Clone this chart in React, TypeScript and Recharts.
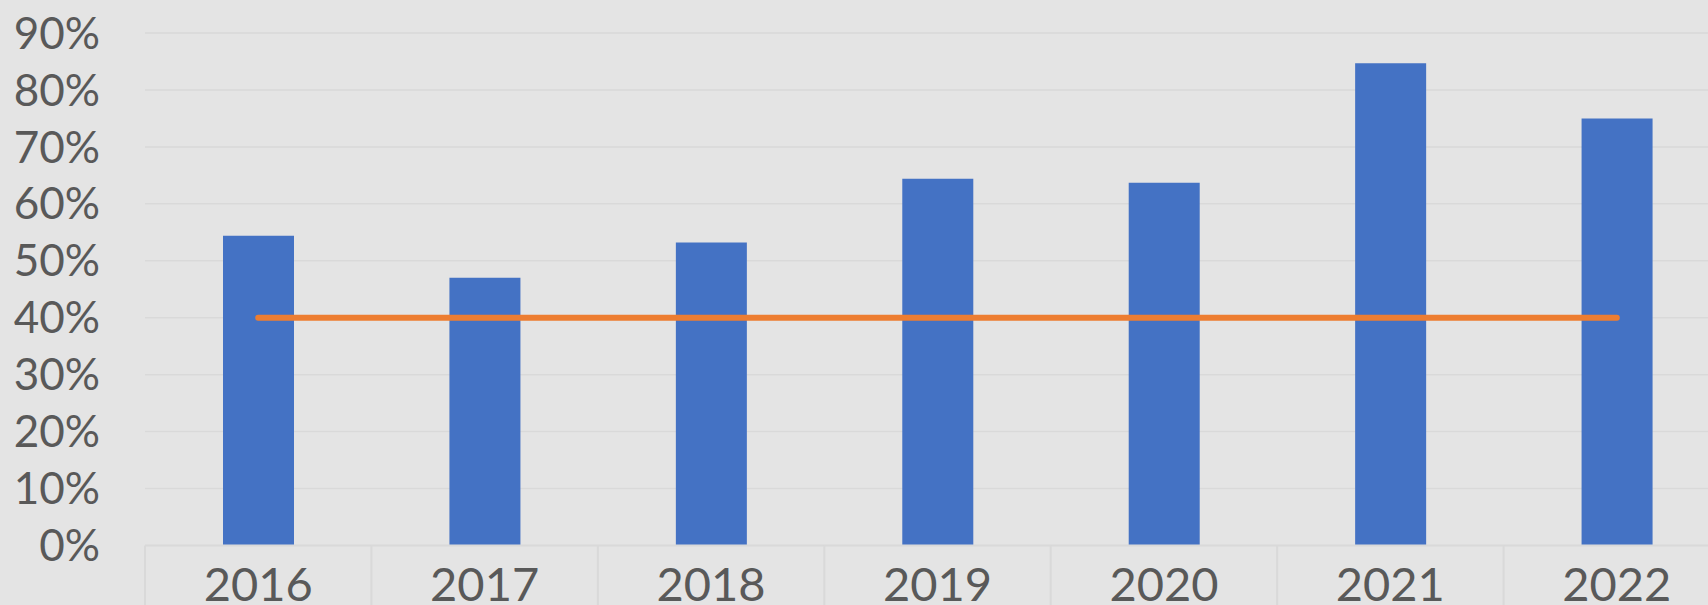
import React from 'react';
import {
  ComposedChart,
  Bar,
  Line,
  XAxis,
  YAxis,
  CartesianGrid,
} from 'recharts';

// Anos (categorias do eixo X)
const years = ['2016', '2017', '2018', '2019', '2020', '2021', '2022'];
// Percentual por ano (barras)
const values = [54.4, 47.0, 53.2, 64.4, 63.7, 84.7, 75.0];
// Linha de meta
const target = [40, 40, 40, 40, 40, 40, 40];
// Ticks do eixo Y
const yTicks = [0, 10, 20, 30, 40, 50, 60, 70, 80, 90];

const data = years.map((year, i) => ({ year, value: values[i], target: target[i] }));

const CHART_W = 1730;
const CHART_H = 605;
const Y_AXIS_W = 145;
const X_AXIS_H = 59.5;
const BAND = (CHART_W - Y_AXIS_W) / years.length;

const GRID = '#D9D9D9';
const TEXT = '#595959';
const FONT = 'Lato, "Open Sans", sans-serif';

const formatYTick = (v: number) => `${v}%`;

// tick do eixo X com as linhas divisórias entre categorias
const XTick = (props: any) => {
  const { x, y, payload, index } = props;
  const left = x - BAND / 2;
  const right = x + BAND / 2;
  return (
    <g>
      <line x1={left} y1={y} x2={left} y2={CHART_H} stroke={GRID} strokeWidth={2} />
      {index === years.length - 1 && (
        <line x1={right} y1={y} x2={right} y2={CHART_H} stroke={GRID} strokeWidth={2} />
      )}
      <text
        x={x}
        y={y + 55}
        textAnchor="middle"
        fill={TEXT}
        fontSize={47}
        fontFamily={FONT}
      >
        {payload.value}
      </text>
    </g>
  );
};

export default function App() {
  return (
    <div
      style={{
        position: 'absolute',
        left: 0,
        top: 0,
        width: 1708,
        height: 605,
        overflow: 'hidden',
        background: '#E4E4E4',
      }}
    >
      <ComposedChart
        width={CHART_W}
        height={CHART_H}
        data={data}
        margin={{ top: 33, right: 0, left: 0, bottom: 0 }}
      >
        <CartesianGrid vertical={false} stroke={GRID} strokeWidth={1.5} />
        <XAxis
          dataKey="year"
          height={X_AXIS_H}
          interval={0}
          tickLine={false}
          tickSize={0}
          tickMargin={0}
          axisLine={{ stroke: GRID, strokeWidth: 2 }}
          tick={<XTick />}
        />
        <YAxis
          width={Y_AXIS_W}
          domain={[0, 90]}
          ticks={yTicks}
          interval={0}
          tickFormatter={formatYTick}
          axisLine={false}
          tickLine={false}
          tickSize={0}
          tickMargin={45}
          tick={{ fill: TEXT, fontSize: 44, fontFamily: FONT }}
        />
        <Bar dataKey="value" fill="#4472C4" barSize={71} isAnimationActive={false} />
        <Line
          dataKey="target"
          stroke="#ED7D31"
          strokeWidth={6}
          strokeLinecap="round"
          dot={false}
          activeDot={false}
          isAnimationActive={false}
        />
      </ComposedChart>
    </div>
  );
}
